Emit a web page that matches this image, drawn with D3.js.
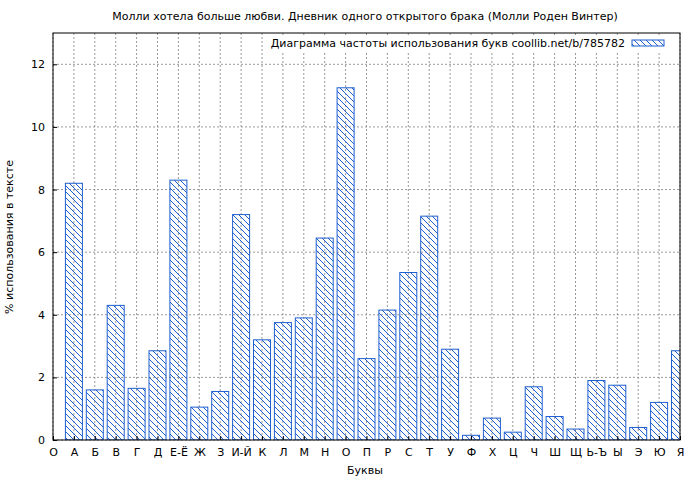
<!DOCTYPE html>
<html>
<head>
<meta charset="utf-8">
<script src="https://d3js.org/d3.v7.min.js"></script>
<style>body{margin:0;background:#fff}text{font-family:"DejaVu Sans",sans-serif;font-size:11px;fill:#000}</style>
</head>
<body>
<div class="chart"></div>
<script>
var letters = ['А','Б','В','Г','Д','Е-Ё','Ж','З','И-Й','К','Л','М','Н','О','П','Р','С','Т','У','Ф','Х','Ц','Ч','Ш','Щ','Ь-Ъ','Ы','Э','Ю','Я']
var values = [8.2,1.6,4.3,1.65,2.85,8.3,1.05,1.55,7.2,3.2,3.75,3.9,6.45,11.25,2.6,4.15,5.35,7.15,2.9,0.15,0.7,0.25,1.7,0.75,0.35,1.9,1.75,0.4,1.2,2.85]
var yTicks = [0,2,4,6,8,10,12]

var width = 700, height = 480
var pLeft = 53, pRight = 680, pTop = 33, pBottom = 440

var svg = d3.select('.chart').append('svg').attr('width', width).attr('height', height)

var defs = svg.append('defs')
var pat = defs.append('pattern').attr('id', 'hatch').attr('patternUnits', 'userSpaceOnUse')
	.attr('width', 6).attr('height', 6)
pat.append('path').attr('d', 'M0,0 L6,6 M-1,5 L1,7 M5,-1 L7,1').attr('stroke', '#1f5fd0').attr('stroke-width', 1)
defs.append('clipPath').attr('id', 'clip').append('rect')
	.attr('x', pLeft).attr('y', pTop).attr('width', pRight - pLeft).attr('height', pBottom - pTop)

var x = d3.scaleLinear().domain([0, 30]).range([pLeft, pRight])
var y = d3.scaleLinear().domain([0, 13]).range([pBottom, pTop])

// сетка
var grid = svg.append('g').attr('stroke', '#999').attr('stroke-dasharray', '2,2')
d3.range(0, 31).forEach(function(i) {
	grid.append('line').attr('x1', x(i)).attr('x2', x(i)).attr('y1', pTop).attr('y2', pBottom)
})
yTicks.forEach(function(t) {
	grid.append('line').attr('x1', pLeft).attr('x2', pRight).attr('y1', y(t)).attr('y2', y(t))
})

var bw = 17
svg.append('g').attr('clip-path', 'url(#clip)').selectAll('rect').data(values).enter().append('rect')
	.attr('x', (d, i) => x(i + 1) - bw / 2)
	.attr('y', d => y(d))
	.attr('width', bw)
	.attr('height', d => pBottom - y(d))
	.attr('fill', 'url(#hatch)')
	.attr('stroke', '#1f5fd0')

svg.append('rect').attr('x', pLeft).attr('y', pTop).attr('width', pRight - pLeft).attr('height', pBottom - pTop)
	.attr('fill', 'none').attr('stroke', '#000')

// оси
var xa = svg.append('g').attr('transform', `translate(0,${pBottom})`)
	.call(d3.axisBottom(x).tickValues(d3.range(0, 31)).tickSize(-4).tickPadding(8)
		.tickFormat(i => i === 0 ? 'О' : letters[i - 1]))
var ya = svg.append('g').attr('transform', `translate(${pLeft},0)`)
	.call(d3.axisLeft(y).tickValues(yTicks).tickSize(-4).tickPadding(8))
;[xa, ya].forEach(function(a) {
	a.select('.domain').remove()
	a.selectAll('text').style('font-size', '11px').style('font-family', 'DejaVu Sans')
})

svg.append('text').attr('x', 365).attr('y', 20).attr('text-anchor', 'middle')
	.text('Молли хотела больше любви. Дневник одного открытого брака (Молли Роден Винтер)')
svg.append('text').attr('x', 365).attr('y', 474).attr('text-anchor', 'middle').text('Буквы')
svg.append('text').attr('transform', 'translate(13,237) rotate(-90)').attr('text-anchor', 'middle')
	.text('% использования в тексте')

// легенда
svg.append('rect').attr('x', 282).attr('y', 35).attr('width', 394).attr('height', 16).attr('fill', '#fff')
svg.append('text').attr('x', 625).attr('y', 47).attr('text-anchor', 'end')
	.text('Диаграмма частоты использования букв coollib.net/b/785782')
svg.append('rect').attr('x', 632).attr('y', 40).attr('width', 32).attr('height', 6)
	.attr('fill', 'url(#hatch)').attr('stroke', '#1f5fd0')
</script>
</body>
</html>
